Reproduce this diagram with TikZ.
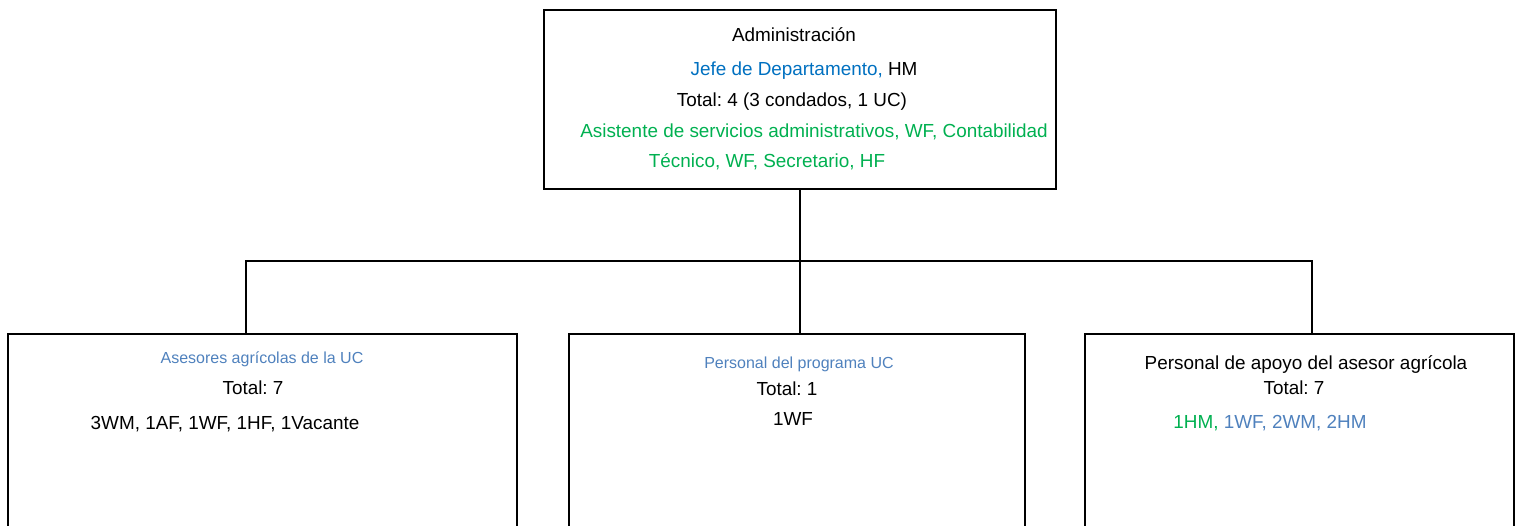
\documentclass[tikz,border=0pt]{standalone}
\usepackage{fontspec}
\setmainfont{Liberation Sans}
\usetikzlibrary{positioning}
\frenchspacing
\definecolor{jefeblue}{RGB}{0,112,192}
\definecolor{staffgreen}{RGB}{0,176,80}
\definecolor{unitblue}{RGB}{79,129,189}
\tikzset{
x=0.5pt, y=-0.5pt, % one unit is one pixel of the chart
box/.style={draw, line width=1pt, rectangle, inner sep=0pt}, % sets the frame of each unit
txt/.style={font=\fontsize{9.45}{11}\selectfont, inner sep=0pt}, % normal lines of text
small/.style={font=\fontsize{8}{10}\selectfont, inner sep=0pt, text=unitblue}, % smaller unit titles
link/.style={line width=1pt}, % the lines between the units
}
\begin{document}
\begin{tikzpicture}
    \useasboundingbox (0,0) rectangle (1516,525);
    \clip (0,0) rectangle (1516,525);
    \node[box, minimum width=256pt, minimum height=89.5pt] (admin) at (800,99.5) {};
    \node[box, minimum width=254.5pt, minimum height=105.5pt] (asesores) at (262.5,439.5) {};
    \node[box, minimum width=228pt, minimum height=105.5pt] (programa) at (797,439.5) {};
    \node[box, minimum width=214.5pt, minimum height=105.5pt] (apoyo) at (1299.5,439.5) {};
    \coordinate (busL) at (246,261);
    \coordinate (busR) at (1312,261);
    % texts of the administration
    \node[txt] (a1) at (794,35) {Administración};
    \node[txt] (a2) at (804,71) {\textcolor{jefeblue}{Jefe de Departamento,} HM};
    \node[txt] (a3) at (792,102) {Total: 4 (3 condados, 1 UC)};
    \node[txt, text=staffgreen] (a4) at (814,132) {Asistente de servicios administrativos, WF, Contabilidad};
    \node[txt, text=staffgreen] (a5) at (767,162) {Técnico, WF, Secretario, HF};
    % texts of the three units
    \node[small] (b1) at (262,359) {Asesores agrícolas de la UC};
    \node[txt] (b2) at (253,388) {Total: 7};
    \node[txt] (b3) at (225,424) {3WM, 1AF, 1WF, 1HF, 1Vacante};
    \node[small] (c1) at (799,364) {Personal del programa UC};
    \node[txt] (c2) at (787,389) {Total: 1};
    \node[txt] (c3) at (793,419) {1WF};
    \node[txt] (d1) at (1306,364) {Personal de apoyo del asesor agrícola};
    \node[txt] (d2) at (1294,388) {Total: 7};
    \node[txt] (d3) at (1270,423) {\textcolor{staffgreen}{1HM,} \textcolor{unitblue}{1WF, 2WM, 2HM}};
    \draw[link]
    (admin.south) -- (admin.south |- programa.north)
    (busL |- asesores.north) -- (busL) -- (busR) -- (busR |- apoyo.north);
  \end{tikzpicture}
\end{document}
